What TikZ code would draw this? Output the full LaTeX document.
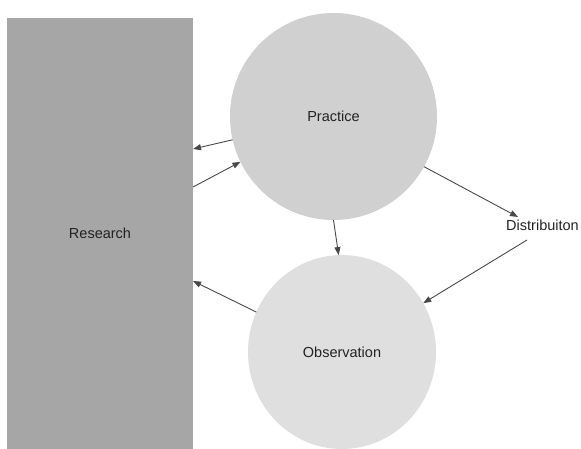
\documentclass[tikz,border=0pt]{standalone}
\usepackage{fontspec}
\setmainfont{Liberation Sans}
\usetikzlibrary{shapes.geometric,arrows.meta}
\definecolor{rescol}{HTML}{A6A6A6}
\definecolor{praccol}{HTML}{D0D0D0}
\definecolor{obscol}{HTML}{DFDFDF}
\definecolor{arrcol}{HTML}{484848}
\definecolor{txtcol}{HTML}{222222}
\begin{document}
\begin{tikzpicture}[x=1pt,y=-1pt,
  lbl/.style={font=\fontsize{14.5}{16}\selectfont, text=txtcol},
  resbox/.style={rectangle, fill=rescol, draw=none, inner sep=0pt, outer sep=0pt, minimum width=186pt, minimum height=431pt, lbl},
  pracbox/.style={circle, fill=praccol, draw=none, inner sep=0pt, outer sep=0pt, minimum size=207pt, lbl},
  obsbox/.style={ellipse, fill=obscol, draw=none, inner sep=0pt, outer sep=0pt, minimum width=188pt, minimum height=194pt, lbl},
  distbox/.style={rectangle, inner sep=1pt, lbl},
  conn/.style={draw=arrcol, line width=0.9pt, -{Triangle[length=8pt,width=6pt]}}]
\useasboundingbox (0,0) rectangle (581,449);
\node[resbox] (R) at (100,233.5) {Research};
\node[pracbox] (P) at (333.5,116.5) {Practice};
\node[obsbox] (O) at (342,352) {Observation};
\node[distbox] (D) at (542.5,225) {Distribuiton};
\draw[conn] (P.193) -- ([yshift=84.5pt]R.east);
\draw[conn] ([yshift=46.5pt]R.east) -- (P.206.4);
\draw[conn] (P.270) -- (O.92);
\draw[conn] (O.155) -- ([yshift=-47.5pt]R.east);
\draw[conn] (P.-29) -- ([xshift=-24.5pt,yshift=8pt]D.center);
\draw[conn] ([xshift=-15.5pt,yshift=-15pt]D.center) -- (O.31.5);
\end{tikzpicture}
\end{document}
